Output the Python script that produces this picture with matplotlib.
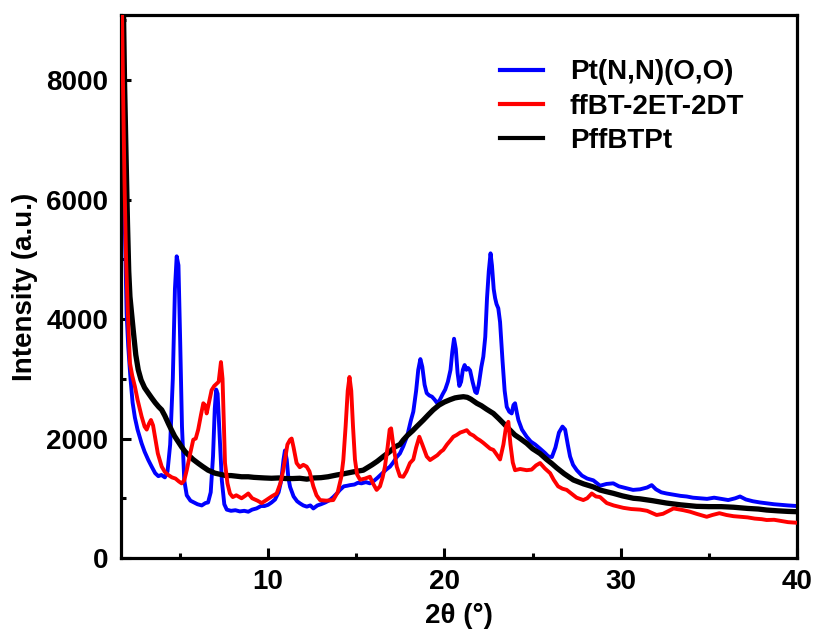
import matplotlib
matplotlib.use('Agg')
import matplotlib.pyplot as plt
from matplotlib.ticker import MultipleLocator

plt.rcParams['font.family'] = ['Liberation Sans', 'DejaVu Sans']
plt.rcParams['font.weight'] = 'bold'
plt.rcParams['axes.labelweight'] = 'bold'

# Pt(N,N)(O,O)
blue_x = [1.66, 1.72, 1.80, 1.89, 1.98, 2.07, 2.2, 2.32, 2.45, 2.6, 2.83, 3.0, 3.21, 3.4, 3.6, 3.78,
          3.95, 4.15, 4.3, 4.45, 4.6, 4.72, 4.82, 4.92, 5.02, 5.12, 5.25, 5.39, 5.6, 5.8, 6.0, 6.24,
          6.45, 6.6, 6.75, 6.88, 6.98, 7.06, 7.14, 7.25, 7.38, 7.52, 7.66, 7.9, 8.15, 8.4, 8.65, 8.88,
          9.1, 9.35, 9.6, 9.8, 10.0, 10.2, 10.4, 10.6, 10.75, 10.88, 10.96, 11.06, 11.15, 11.25, 11.45,
          11.65, 11.81, 12.0, 12.2, 12.4, 12.57, 12.8, 13.0, 13.25, 13.5, 13.7, 13.9, 14.08, 14.3, 14.5,
          14.65, 14.9, 15.1, 15.3, 15.55, 15.78, 16.0, 16.2, 16.45, 16.7, 16.92, 17.1, 17.3, 17.48,
          17.67, 17.9, 18.1, 18.24, 18.4, 18.52, 18.64, 18.75, 18.88, 19.0, 19.15, 19.3, 19.45, 19.6,
          19.75, 19.9, 20.05, 20.2, 20.35, 20.45, 20.55, 20.65, 20.75, 20.85, 20.95, 21.05, 21.15,
          21.25, 21.35, 21.46, 21.6, 21.75, 21.84, 21.95, 22.1, 22.21, 22.32, 22.42, 22.52, 22.62,
          22.7, 22.8, 22.88, 22.96, 23.06, 23.16, 23.3, 23.42, 23.54, 23.68, 23.82, 23.92, 24.01,
          24.12, 24.2, 24.4, 24.67, 24.9, 25.15, 25.43, 25.7, 25.9, 26.1, 26.3, 26.5, 26.7, 26.85,
          27.0, 27.13, 27.3, 27.51, 27.8, 28.1, 28.45, 28.83, 29.2, 29.58, 29.9, 30.3, 30.7, 31.1,
          31.5, 31.76, 32.0, 32.3, 32.6, 33.0, 33.4, 33.74, 34.1, 34.5, 34.9, 35.3, 35.7, 36.1, 36.5,
          36.77, 37.1, 37.5, 37.9, 38.28, 38.7, 39.1, 39.5, 40.0]
blue_y = [9600, 7600, 6200, 5400, 4100, 3550, 3000, 2600, 2350, 2150, 1920, 1780, 1640, 1530, 1420, 1370,
          1390, 1350, 1450, 1900, 3000, 4500, 5050, 4900, 3600, 2200, 1300, 1050, 960, 930, 900, 880,
          920, 930, 1100, 1700, 2500, 2820, 2750, 2100, 1300, 900, 810, 790, 800, 780, 790, 775,
          810, 830, 870, 870, 890, 930, 980, 1100, 1300, 1650, 1800, 1650, 1350, 1190, 1030,
          950, 915, 880, 860, 880, 830, 880, 900, 930, 970, 1020, 1080, 1140, 1200, 1210,
          1220, 1230, 1260, 1250, 1270, 1250, 1290, 1340, 1410, 1480, 1530, 1600, 1690, 1750,
          1870, 2050, 2300, 2450, 2800, 3150, 3330, 3200, 2900, 2760, 2720, 2700, 2650, 2590,
          2650, 2740, 2820, 2950, 3150, 3450, 3670, 3500, 3100, 2880, 2950, 3150, 3230,
          3150, 3180, 3140, 2950, 2780, 2760, 2900, 3200, 3370, 3700, 4350, 4800, 5100,
          4900, 4500, 4350, 4250, 4180, 3950, 3300, 2800, 2530, 2450, 2420, 2560, 2590,
          2420, 2310, 2150, 2030, 1950, 1900, 1830, 1760, 1700, 1690, 1850, 2100, 2200, 2150,
          1900, 1700, 1560, 1470, 1380, 1330, 1300, 1210, 1240, 1250, 1200, 1170, 1140, 1150,
          1180, 1220, 1150, 1100, 1080, 1060, 1040, 1030, 1010, 1000, 990, 1010, 990, 970, 1000,
          1030, 980, 950, 930, 915, 900, 890, 880, 870]

# ffBT-2ET-2DT
red_x = [1.7, 1.78, 1.86, 1.95, 2.05, 2.17, 2.3, 2.45, 2.6, 2.83, 3.0, 3.12, 3.25, 3.36, 3.48, 3.59,
         3.75, 3.97, 4.15, 4.34, 4.55, 4.75, 4.95, 5.1, 5.25, 5.39, 5.55, 5.76, 5.9, 6.04, 6.2, 6.33,
         6.45, 6.52, 6.65, 6.8, 6.95, 7.09, 7.2, 7.33, 7.42, 7.5, 7.56, 7.7, 7.84, 8.0, 8.2, 8.5, 8.7,
         8.88, 9.1, 9.4, 9.64, 9.9, 10.2, 10.49, 10.7, 10.85, 10.96, 11.1, 11.25, 11.34, 11.45, 11.62,
         11.8, 12.0, 12.19, 12.35, 12.57, 12.75, 12.95, 13.3, 13.7, 13.95, 14.15, 14.27, 14.4, 14.52,
         14.62, 14.72, 14.82, 14.93, 15.05, 15.22, 15.5, 15.78, 15.95, 16.16, 16.35, 16.5, 16.63,
         16.78, 16.9, 16.98, 17.1, 17.3, 17.48, 17.67, 17.85, 18.05, 18.24, 18.4, 18.58, 18.75, 19.0,
         19.19, 19.4, 19.6, 19.8, 19.94, 20.15, 20.35, 20.51, 20.7, 20.9, 21.1, 21.27, 21.45, 21.65,
         21.85, 22.02, 22.2, 22.4, 22.6, 22.78, 22.95, 23.16, 23.35, 23.5, 23.63, 23.75, 23.88, 24.01,
         24.3, 24.67, 24.95, 25.2, 25.43, 25.7, 26.0, 26.2, 26.45, 26.7, 26.94, 27.2, 27.5, 27.88,
         28.1, 28.36, 28.6, 28.83, 29.21, 29.6, 30.15, 30.6, 31.1, 31.5, 32.04, 32.4, 32.8, 33.0,
         33.56, 33.93, 34.3, 34.88, 35.2, 35.6, 36.0, 36.4, 36.8, 37.2, 37.6, 38.0, 38.28, 38.7,
         39.1, 39.5, 40.0]
red_y = [9600, 7800, 6300, 5000, 4100, 3260, 3050, 2870, 2650, 2370, 2200, 2150, 2250, 2310, 2220, 2030,
         1750, 1530, 1440, 1390, 1350, 1330, 1280, 1250, 1300, 1470, 1700, 1980, 2000, 2150, 2400, 2590,
         2550, 2420, 2600, 2810, 2880, 2920, 2950, 3280, 3000, 2200, 1590, 1250, 1080, 1020, 1050, 1000, 1040,
         1080, 1000, 960, 920, 970, 1030, 1080, 1250, 1450, 1640, 1900, 1980, 2000, 1850, 1590,
         1520, 1560, 1530, 1450, 1200, 1050, 970, 960, 970, 1100, 1350, 1640, 2200, 2800,
         3030, 2800, 2200, 1650, 1400, 1310, 1330, 1360, 1250, 1140, 1200, 1350, 1530,
         1850, 2150, 2170, 1900, 1530, 1370, 1360, 1450, 1590, 1650, 1850, 2030, 1900, 1700,
         1640, 1680, 1720, 1780, 1810, 1900, 1970, 2030, 2060, 2100, 2120, 2140, 2080, 2050,
         2000, 1970, 1930, 1880, 1830, 1810, 1740, 1650, 1900, 2200, 2280, 1900, 1600, 1470,
         1490, 1470, 1480, 1550, 1590, 1500, 1420, 1310, 1200, 1160, 1140, 1080, 1010, 970,
         1000, 1080, 1030, 1020, 920, 880, 840, 820, 810, 790, 720, 740, 800, 830,
         800, 775, 740, 690, 720, 750, 720, 700, 690, 680, 660, 650, 636, 640,
         620, 600, 590]

# PffBTPt
black_x = [1.78, 1.86, 1.95, 2.03, 2.1, 2.17, 2.26, 2.36, 2.5, 2.64, 2.8, 3.0, 3.21, 3.4, 3.6, 3.8,
           3.97, 4.15, 4.35, 4.53, 4.7, 4.9, 5.1, 5.3, 5.5, 5.75, 6.04, 6.3, 6.6, 6.99, 7.3, 7.6, 7.9,
           8.2, 8.5, 8.88, 9.2, 9.5, 9.8, 10.2, 10.6, 11.0, 11.4, 11.8, 12.2, 12.6, 13.0, 13.4, 13.9,
           14.3, 14.8, 15.4, 15.9, 16.2, 16.54, 16.9, 17.2, 17.48, 17.67, 17.9, 18.2, 18.43, 18.81,
           19.1, 19.37, 19.7, 20.0, 20.32, 20.6, 20.8, 21.08, 21.3, 21.5, 21.84, 22.1, 22.4, 22.78,
           23.1, 23.4, 23.73, 24.0, 24.3, 24.67, 25.0, 25.42, 25.8, 26.1, 26.37, 26.8, 27.32, 27.9,
           28.45, 28.83, 29.2, 29.58, 30.1, 30.72, 31.1, 31.8, 32.6, 33.4, 34.3, 35.0, 35.7, 36.4,
           37.2, 37.8, 38.28, 38.9, 39.5, 40.0]
black_y = [9600, 8000, 6700, 5600, 4800, 4374, 4100, 3800, 3400, 3150, 2980, 2850, 2760, 2680, 2600, 2530,
           2480, 2380, 2250, 2140, 2040, 1950, 1860, 1780, 1720, 1650, 1585, 1530, 1470, 1420, 1400, 1380, 1380,
           1370, 1360, 1360, 1350, 1345, 1340, 1335, 1340, 1330, 1330, 1335, 1320, 1340, 1345, 1360, 1390,
           1410, 1440, 1470, 1560, 1620, 1700, 1780, 1860, 1900, 1975, 2050, 2130, 2200, 2310,
           2400, 2480, 2560, 2610, 2650, 2680, 2690, 2700, 2690, 2660, 2590, 2550, 2490, 2420,
           2330, 2240, 2140, 2060, 2000, 1920, 1830, 1750, 1650, 1580, 1510, 1410, 1306, 1240,
           1190, 1138, 1110, 1083, 1040, 1000, 990, 960, 920, 890, 865, 860, 860, 850,
           830, 820, 803, 790, 780, 775]

fig = plt.figure(figsize=(8.13, 6.37), dpi=100)
ax = fig.add_axes([0.1488, 0.124, 0.8315, 0.8525])

ax.plot(blue_x, blue_y, color='#0000ff', lw=2.8, label='Pt(N,N)(O,O)', zorder=2)
ax.plot(black_x, black_y, color='black', lw=3.8, label='PffBTPt', zorder=3)
ax.plot(red_x, red_y, color='#ff0000', lw=2.8, label='ffBT-2ET-2DT', zorder=4)

ax.set_xlim(1.66, 40)
ax.set_ylim(0, 9090)
ax.xaxis.set_major_locator(MultipleLocator(10))
ax.xaxis.set_minor_locator(MultipleLocator(5))
ax.yaxis.set_major_locator(MultipleLocator(2000))
ax.yaxis.set_minor_locator(MultipleLocator(1000))
ax.tick_params(which='both', direction='in', top=False, right=False, width=2.2, labelsize=20)
ax.tick_params(which='major', length=7)
ax.tick_params(which='minor', length=3.5)
ax.tick_params(axis='x', pad=8)
ax.tick_params(axis='y', pad=9)
for s in ax.spines.values():
    s.set_linewidth(2.3)

ax.set_xlabel('2θ (°)', fontsize=20, labelpad=6)
ax.set_ylabel('Intensity (a.u.)', fontsize=20, labelpad=6)

handles, labels = ax.get_legend_handles_labels()
order = [0, 2, 1]
leg = ax.legend([handles[i] for i in order], [labels[i] for i in order], frameon=False, fontsize=20,
                loc='upper left', bbox_to_anchor=(0.561, 0.918), handlelength=1.55, handletextpad=0.95,
                labelspacing=0.3, borderaxespad=0, borderpad=0)
for line in leg.get_lines():
    line.set_linewidth(3.0)

fig.savefig('out.png', dpi=100)
